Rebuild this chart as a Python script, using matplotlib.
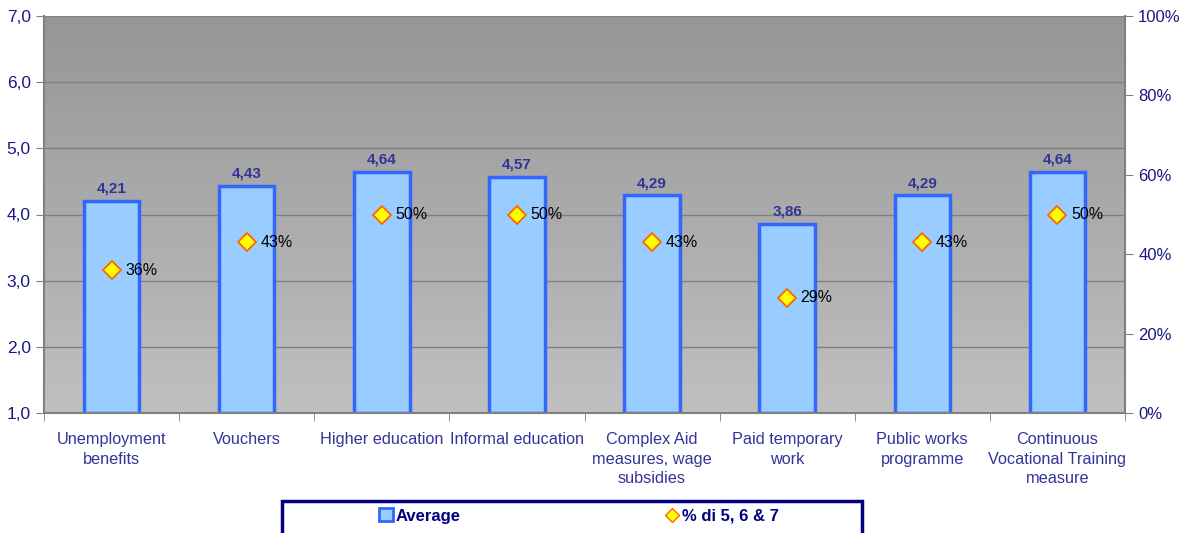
import matplotlib
matplotlib.use("Agg")
import matplotlib.pyplot as plt
import numpy as np
from matplotlib.lines import Line2D
from matplotlib.patches import Patch, Rectangle

plt.rcParams["font.family"] = ["Liberation Sans", "DejaVu Sans"]

categories = ["Unemployment\nbenefits", "Vouchers", "Higher education", "Informal education",
              "Complex Aid\nmeasures, wage\nsubsidies", "Paid temporary\nwork",
              "Public works\nprogramme", "Continuous\nVocational Training\nmeasure"]
average = [4.21, 4.43, 4.64, 4.57, 4.29, 3.86, 4.29, 4.64]
pct_567 = [36, 43, 50, 50, 43, 29, 43, 50]

navy = "#1a1a80"
label_col = "#333399"
grid_col = "#808080"

fig = plt.figure(figsize=(11.83, 5.33), dpi=100)
ax = fig.add_axes([44/1183, 1-413/533, (1125-44)/1183, (413-16)/533])
x = np.arange(len(categories))

# gradient background, dark at top
grad = np.linspace(0, 1, 256).reshape(-1, 1)
cmap = matplotlib.colors.LinearSegmentedColormap.from_list("bg", ["#969696", "#c0c0c0"])
ax.imshow(grad, aspect="auto", cmap=cmap, extent=[-0.5, 7.5, 1, 7], zorder=0)

ax.set_xlim(-0.5, 7.5)
ax.set_ylim(1, 7)
ax.set_yticks(np.arange(1, 8, 1))
ax.set_yticklabels([f"{v:.1f}".replace(".", ",") for v in np.arange(1, 8, 1)])
ax.grid(axis="y", color=grid_col, linewidth=1, zorder=1)

ax.bar(x, [a - 1 for a in average], bottom=1, width=0.41, color="#99ccff",
       edgecolor="#3366ff", linewidth=2.5, zorder=2)
for xi, a in zip(x, average):
    ax.text(xi, a + 0.08, f"{a:.2f}".replace(".", ","), ha="center", va="bottom",
            fontsize=11, fontweight="bold", color=label_col, zorder=5)

ax.set_xticks(x)
ax.set_xticklabels(categories, fontsize=11.7, color=label_col, linespacing=1.35)
ax.set_xticks(np.arange(-0.5, 8, 1), minor=True)
ax.tick_params(axis="x", which="major", length=0, pad=14)
ax.tick_params(axis="x", which="minor", length=6, color=grid_col)
ax.tick_params(axis="y", length=6, color=grid_col, labelcolor=navy, labelsize=12.5)
for s in ["top", "right"]:
    ax.spines[s].set_visible(False)
for s in ["left", "bottom"]:
    ax.spines[s].set_color(grid_col)
    ax.spines[s].set_linewidth(1.5)

ax2 = ax.twinx()
ax2.set_ylim(0, 100)
ax2.set_yticks(np.arange(0, 101, 20))
ax2.set_yticklabels([f"{v}%" for v in range(0, 101, 20)])
ax2.tick_params(axis="y", length=6, color=grid_col, labelcolor=navy, labelsize=12)
for s in ["top", "left", "bottom"]:
    ax2.spines[s].set_visible(False)
ax2.spines["right"].set_color(grid_col)
ax2.spines["right"].set_linewidth(1.5)
ax2.plot(x, pct_567, linestyle="none", marker="D", markersize=9, markerfacecolor="#ffff00",
         markeredgecolor="#ff6600", markeredgewidth=1.3, zorder=6)
for xi, p in zip(x, pct_567):
    ax2.text(xi + 0.1, p, f"{p}%", ha="left", va="center", fontsize=11.5, color="black")

# legend box at the bottom
fig.patches.append(Rectangle((282/1183, -0.05), (862-282)/1183, 0.05 + 1-501/533,
                             transform=fig.transFigure, facecolor="white",
                             edgecolor="#000080", linewidth=2.5, zorder=1))
h1 = [Patch(facecolor="#99ccff", edgecolor="#3366ff", linewidth=2)]
h2 = [Line2D([], [], linestyle="none", marker="D", markersize=7, markerfacecolor="#ffff00",
             markeredgecolor="#ff6600")]
for h, lab, xc in [(h1, "Average", 420/1183), (h2, "% di 5, 6 & 7", 722/1183)]:
    leg = fig.legend(h, [lab], loc="center", bbox_to_anchor=(xc, 1-516/533), frameon=False,
                     handlelength=0.8, handletextpad=0.2, handleheight=0.8,
                     prop={"weight": "bold", "size": 12})
    for t in leg.get_texts():
        t.set_color("#000080")

fig.savefig("out.png", dpi=100)
